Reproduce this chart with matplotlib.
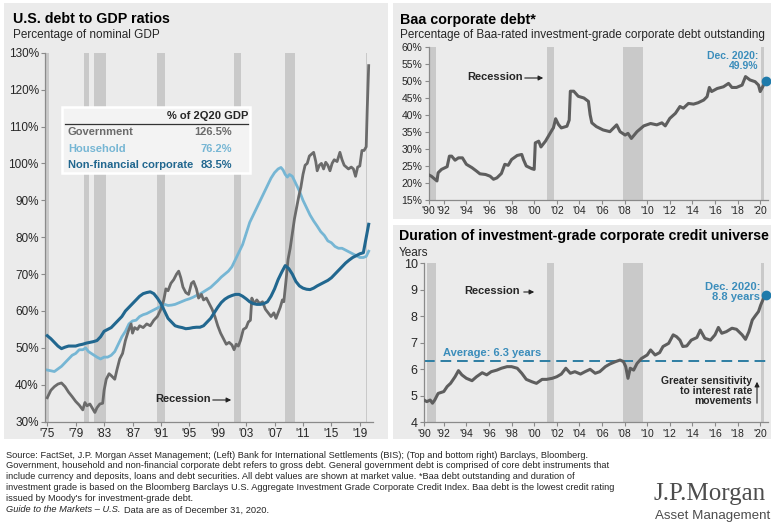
import matplotlib
matplotlib.use("Agg")
import matplotlib.pyplot as plt
from matplotlib.patches import Rectangle, FancyArrowPatch
from matplotlib.lines import Line2D

W, H = 771, 524

plt.rcParams['font.family'] = ['Liberation Sans', 'DejaVu Sans']

# ---- U.S. debt to GDP ratios (% of nominal GDP) ----
gov_years = [1975.0, 1975.5, 1976.0, 1976.5, 1977.0, 1977.5, 1978.0, 1978.5, 1979.0, 1979.5,
             1980.0, 1980.3, 1980.6, 1981.0, 1981.4, 1981.7, 1982.0, 1982.4, 1982.8, 1983.0,
             1983.3, 1983.7, 1984.0, 1984.5, 1984.8, 1985.2, 1985.6, 1986.0, 1986.4, 1986.8,
             1987.0, 1987.3, 1987.7, 1988.0, 1988.5, 1989.0, 1989.5, 1990.0, 1990.5, 1991.0,
             1991.4, 1991.7, 1992.0, 1992.4, 1992.8, 1993.2, 1993.5, 1993.8, 1994.1, 1994.5,
             1994.9, 1995.3, 1995.6, 1996.0, 1996.3, 1996.7, 1997.0, 1997.4, 1997.8, 1998.2,
             1998.6, 1999.0, 1999.4, 1999.8, 2000.2, 2000.6, 2001.0, 2001.3, 2001.6, 2001.9,
             2002.2, 2002.6, 2003.0, 2003.3, 2003.6, 2003.8, 2004.1, 2004.5, 2004.9, 2005.3,
             2005.7, 2006.1, 2006.5, 2006.9, 2007.2, 2007.5, 2007.8, 2008.1, 2008.3, 2008.6,
             2008.9, 2009.2, 2009.5, 2009.8, 2010.1, 2010.4, 2010.7, 2011.0, 2011.3, 2011.6,
             2011.9, 2012.2, 2012.5, 2012.8, 2013.0, 2013.3, 2013.6, 2013.9, 2014.2, 2014.5,
             2014.8, 2015.1, 2015.4, 2015.8, 2016.2, 2016.5, 2016.8, 2017.1, 2017.4, 2017.8,
             2018.1, 2018.4, 2018.7, 2019.0, 2019.3, 2019.6, 2019.9, 2020.05, 2020.25]
gov_vals = [36.5, 38.5, 39.5, 40.2, 40.5, 39.5, 38.0, 36.8, 35.5, 34.5,
            33.2, 35.2, 34.3, 34.8, 33.5, 32.5, 33.8, 34.8, 35.0, 38.5,
            41.5, 43.0, 42.5, 41.5, 44.0, 47.0, 48.5, 52.0, 54.5, 56.5,
            54.0, 55.5, 55.0, 56.0, 55.5, 56.5, 56.0, 57.5, 58.5, 60.5,
            63.0, 66.0, 65.5, 67.5, 68.5, 70.0, 70.8, 69.0, 66.5, 65.0,
            64.5, 67.5, 68.0, 66.0, 63.5, 64.5, 63.0, 63.5, 62.0, 60.5,
            58.5, 56.0, 54.0, 52.5, 51.0, 51.5, 50.8, 49.5, 51.0, 50.5,
            52.0, 55.0, 55.5, 57.0, 57.5, 63.5, 62.0, 63.0, 62.0, 62.5,
            60.5, 59.5, 58.5, 59.5, 58.0, 59.5, 61.0, 63.0, 62.5, 68.0,
            74.0, 77.0, 81.0, 85.0, 88.0, 91.0, 93.5, 97.0, 99.5, 100.0,
            102.0, 102.5, 103.0, 100.5, 98.0, 99.5, 100.0, 98.5, 100.3, 99.5,
            98.0, 100.0, 101.0, 100.5, 103.0, 101.0, 99.5, 99.0, 98.5, 99.0,
            98.5, 96.5, 99.0, 99.3, 103.5, 103.5, 104.5, 115.0, 126.5]

hh_years = [1975.0, 1975.5, 1976.0, 1976.5, 1977.0, 1977.5, 1978.0, 1978.5, 1979.0, 1979.5,
            1980.0, 1980.4, 1980.8, 1981.2, 1981.6, 1982.0, 1982.5, 1983.0, 1983.5, 1984.0,
            1984.5, 1985.0, 1985.5, 1986.0, 1986.5, 1987.0, 1987.5, 1988.0, 1988.5, 1989.0,
            1989.5, 1990.0, 1990.5, 1991.0, 1991.5, 1992.0, 1992.5, 1993.0, 1993.5, 1994.0,
            1994.5, 1995.0, 1995.5, 1996.0, 1996.5, 1997.0, 1997.5, 1998.0, 1998.5, 1999.0,
            1999.5, 2000.0, 2000.5, 2001.0, 2001.5, 2002.0, 2002.5, 2003.0, 2003.5, 2004.0,
            2004.5, 2005.0, 2005.5, 2006.0, 2006.5, 2007.0, 2007.5, 2007.9, 2008.2, 2008.5,
            2008.8, 2009.1, 2009.5, 2010.0, 2010.5, 2011.0, 2011.5, 2012.0, 2012.5, 2013.0,
            2013.5, 2014.0, 2014.5, 2015.0, 2015.5, 2016.0, 2016.5, 2017.0, 2017.5, 2018.0,
            2018.5, 2019.0, 2019.5, 2019.9, 2020.25]
hh_vals = [44.0, 43.8, 43.6, 44.3, 45.0, 46.0, 47.0, 48.0, 48.5, 49.5,
           49.5, 50.0, 49.0, 48.5, 48.0, 47.5, 47.0, 47.5, 47.5, 48.0,
           49.0, 51.0, 53.0, 54.5, 56.5, 57.3, 57.5, 58.5, 59.0, 59.3,
           59.8, 60.3, 60.8, 61.3, 61.8, 61.5, 61.6, 61.8, 62.2, 62.6,
           63.0, 63.3, 63.7, 64.2, 64.6, 65.2, 65.8, 66.4, 67.3, 68.2,
           69.2, 70.0, 70.8, 72.0, 74.0, 76.0, 78.0, 81.0, 84.0, 86.0,
           88.0, 90.0, 92.0, 94.0, 96.0, 97.5, 98.5, 98.9, 98.2, 97.0,
           96.3, 97.0, 96.5, 94.5, 92.5, 90.0, 88.0, 86.0, 84.4, 83.0,
           81.5, 80.5, 79.0, 78.5, 77.5, 77.0, 77.0, 76.5, 76.0, 75.5,
           75.0, 74.5, 74.5, 74.8, 76.2]

corp_years = [1975.0 + 0.5 * i for i in range(90)] + [2020.25]
corp_vals = [53.3, 52.5, 51.5, 50.5, 49.8, 50.2, 50.5, 50.5, 50.5, 50.8,
             51.0, 51.3, 51.5, 51.7, 52.0, 53.0, 54.5, 55.0, 55.5, 56.5,
             57.5, 58.5, 60.0, 61.0, 62.0, 63.0, 64.0, 64.7, 65.0, 65.2,
             64.7, 63.5, 62.0, 60.0, 58.0, 57.0, 56.0, 55.7, 55.5, 55.2,
             55.3, 55.5, 55.6, 55.6, 56.0, 57.0, 58.0, 59.5, 61.0, 62.3,
             63.2, 63.8, 64.2, 64.5, 64.5, 64.0, 63.3, 62.5, 62.0, 61.8,
             61.8, 62.0, 62.5, 64.0, 66.0, 68.5, 70.5, 72.3, 71.5, 70.0,
             68.0, 66.8, 66.2, 65.9, 65.8, 66.2, 66.8, 67.3, 67.8, 68.3,
             69.0, 70.0, 71.0, 72.0, 73.0, 73.8, 74.5, 75.0, 75.5, 75.8,
             83.5]

debt_labels = ["Government", "Household", "Non-financial corporate"]
debt_latest = ["126.5%", "76.2%", "83.5%"]
debt_colors = ["#6b6b6b", "#76b6d4", "#21678f"]

left_recessions = [(1973.9, 1975.2), (1980.2, 1980.9), (1981.6, 1983.2), (1990.45, 1991.6),
                   (2001.35, 2002.3), (2008.4, 2009.9), (2019.85, 2020.05)]
left_ticks = [1975 + 4 * i for i in range(12)]
left_ticklabels = ["'75", "'79", "'83", "'87", "'91", "'95", "'99", "'03", "'07", "'11", "'15", "'19"]

# ---- Baa share of investment-grade corporate debt (%) ----
baa_years = [1990.6, 1990.9, 1991.4, 1991.5, 1991.8, 1992.3, 1992.5, 1992.7, 1993.0, 1993.3,
             1993.65, 1994.0, 1994.5, 1994.9, 1995.2, 1995.7, 1996.1, 1996.4, 1996.7, 1997.1,
             1997.4, 1997.7, 1998.0, 1998.5, 1998.9, 1999.05, 1999.3, 1999.8, 2000.0, 2000.1,
             2000.4, 2000.6, 2001.0, 2001.3, 2001.6, 2001.7, 2001.9, 2002.15, 2002.4, 2002.9,
             2003.1, 2003.2, 2003.5, 2003.9, 2004.4, 2004.8, 2004.95, 2005.1, 2005.5, 2006.1,
             2006.7, 2007.3, 2007.6, 2008.05, 2008.3, 2008.6, 2009.1, 2009.7, 2010.3, 2010.85,
             2011.3, 2011.6, 2012.0, 2012.5, 2012.9, 2013.2, 2013.65, 2014.1, 2014.5, 2015.0,
             2015.3, 2015.5, 2015.7, 2016.2, 2016.75, 2017.2, 2017.5, 2017.9, 2018.4, 2018.7,
             2019.1, 2019.55, 2019.85, 2020.0, 2020.3, 2020.55]
baa_vals = [22.5, 22.0, 20.6, 23.0, 24.0, 24.8, 27.9, 27.9, 26.7, 27.4,
            27.4, 25.5, 24.5, 23.5, 22.7, 22.5, 22.0, 21.1, 21.5, 22.8,
            25.5, 25.2, 26.9, 28.1, 28.4, 26.9, 25.0, 24.2, 24.0, 31.8,
            32.3, 30.6, 32.3, 34.0, 35.7, 36.2, 38.9, 37.2, 36.2, 36.7,
            38.5, 47.0, 47.0, 45.5, 45.0, 44.0, 40.1, 37.7, 36.6, 35.6,
            35.1, 37.1, 35.1, 34.1, 34.6, 33.1, 35.1, 36.8, 37.5, 37.1,
            37.7, 36.8, 39.0, 40.5, 42.5, 42.0, 43.4, 43.2, 43.6, 44.4,
            45.4, 48.1, 46.9, 47.8, 48.3, 49.3, 48.1, 48.1, 48.8, 51.3,
            50.3, 49.8, 48.8, 46.9, 48.8, 49.9]

# ---- Duration of investment-grade corporate credit universe (years) ----
dur_years = [1990.25, 1990.5, 1990.8, 1991.0, 1991.2, 1991.5, 1992.0, 1992.3, 1992.6, 1993.0,
             1993.3, 1993.6, 1994.0, 1994.5, 1994.9, 1995.4, 1995.8, 1996.2, 1996.7, 1997.1,
             1997.6, 1998.0, 1998.5, 1998.9, 1999.3, 1999.8, 2000.2, 2000.7, 2001.1, 2001.6,
             2002.0, 2002.4, 2002.8, 2003.2, 2003.6, 2004.1, 2004.5, 2004.95, 2005.4, 2005.8,
             2006.3, 2006.7, 2007.2, 2007.6, 2007.9, 2008.1, 2008.3, 2008.5, 2008.8, 2009.1,
             2009.5, 2010.0, 2010.3, 2010.7, 2011.1, 2011.4, 2011.9, 2012.3, 2012.6, 2012.9,
             2013.15, 2013.5, 2013.9, 2014.4, 2014.7, 2015.1, 2015.6, 2016.0, 2016.3, 2016.6,
             2017.0, 2017.5, 2017.9, 2018.4, 2018.7, 2019.0, 2019.3, 2019.55, 2019.85, 2020.05,
             2020.3, 2020.55]
dur_vals = [4.84, 4.78, 4.84, 4.72, 4.84, 5.09, 5.16, 5.35, 5.47, 5.72,
            5.95, 5.79, 5.66, 5.57, 5.72, 5.87, 5.79, 5.91, 5.97, 6.04,
            6.10, 6.10, 6.04, 5.85, 5.62, 5.53, 5.47, 5.62, 5.62, 5.66,
            5.72, 5.82, 6.04, 5.85, 5.91, 5.82, 5.91, 6.00, 5.85, 5.91,
            6.10, 6.20, 6.29, 6.35, 6.29, 6.10, 5.66, 6.04, 5.97, 6.22,
            6.41, 6.54, 6.73, 6.54, 6.63, 6.86, 6.98, 7.30, 7.23, 7.10,
            6.86, 6.88, 7.10, 7.20, 7.48, 7.17, 7.10, 7.30, 7.58, 7.36,
            7.42, 7.55, 7.51, 7.30, 7.13, 7.42, 7.86, 8.01, 8.18, 8.43,
            8.68, 8.80]
dur_average = 6.3

right_recessions = [(1990.55, 1991.3), (2001.15, 2001.75), (2007.85, 2009.6), (2020.1, 2020.35)]
right_ticks = [1992 + 2 * i for i in range(15)]
right_ticklabels = ["'%02d" % (y % 100) for y in range(1990, 2021, 2)]

GREY_BG = "#ebebeb"
REC = "#c9c9c9"
LINE_GREY = "#5e5e5e"
TEAL = "#3b8dbb"
DOT = "#1f7bab"
TXT = "#262626"


def fpos(x, y):
    """pixel position (from top left) -> figure fraction"""
    return x / W, 1 - y / H


def add_panel(fig, x0, y0, x1, y1):
    fig.add_artist(Rectangle((x0 / W, 1 - y1 / H), (x1 - x0) / W, (y1 - y0) / H,
                             transform=fig.transFigure, facecolor=GREY_BG,
                             edgecolor='none', zorder=-10))


def make_axes(fig, left, top, right, bottom):
    ax = fig.add_axes([left / W, 1 - bottom / H, (right - left) / W, (bottom - top) / H])
    ax.set_facecolor('none')
    for s in ['top', 'right']:
        ax.spines[s].set_visible(False)
    for s in ['left', 'bottom']:
        ax.spines[s].set_color('#8a8a8a')
        ax.spines[s].set_linewidth(0.9)
    ax.tick_params(length=3, width=0.8, color='#8a8a8a', labelsize=8, labelcolor=TXT, pad=1.5)
    return ax


def fig_text(fig, x, y, s, **kw):
    fx, fy = fpos(x, y)
    kw.setdefault('color', TXT)
    kw.setdefault('va', 'center')
    return fig.text(fx, fy, s, **kw)


def fig_arrow(fig, x0, y0, x1, y1):
    fig.add_artist(FancyArrowPatch(fpos(x0, y0), fpos(x1, y1), transform=fig.transFigure,
                                   arrowstyle='-|>', mutation_scale=7, color='#222222', lw=0.8))


fig = plt.figure(figsize=(W / 100, H / 100), dpi=100)
fig.patch.set_facecolor('white')

add_panel(fig, 4, 3, 388, 439)
add_panel(fig, 393, 3, 771, 219)
add_panel(fig, 393, 225, 771, 439)

# ---------- left: debt to GDP ----------
ax = make_axes(fig, 45, 52.7, 373.3, 421.7)
for a, b in left_recessions:
    ax.axvspan(a, b, color=REC, lw=0, zorder=0)
ax.plot(hh_years, hh_vals, color=debt_colors[1], lw=2.0, zorder=2)
ax.plot(gov_years, gov_vals, color=debt_colors[0], lw=2.0, zorder=3)
ax.plot(corp_years, corp_vals, color=debt_colors[2], lw=2.2, zorder=4)
ax.set_xlim(1974.68, 2020.9)
ax.set_ylim(30, 130)
ax.set_yticks(range(30, 131, 10))
ax.set_yticklabels(["%d%%" % v for v in range(30, 131, 10)], fontsize=8.5)
ax.set_xticks(left_ticks)
ax.set_xticklabels(left_ticklabels, fontsize=8.5)

fig_text(fig, 13, 19, "U.S. debt to GDP ratios", fontsize=10.3, fontweight='bold', color='black')
fig_text(fig, 13, 35, "Percentage of nominal GDP", fontsize=8.5)

# latest-value table
fig.add_artist(Rectangle(fpos(62, 173), 188 / W, 66 / H, transform=fig.transFigure,
                         facecolor='#f3f3f3', edgecolor='white', lw=1.8, zorder=5))
fig_text(fig, 248, 116, "% of 2Q20 GDP", fontsize=8, fontweight='bold', ha='right', zorder=6)
fig.add_artist(Line2D([65 / W, 248 / W], [1 - 124 / H, 1 - 124 / H], color='#333333', lw=0.9, zorder=6))
for i, (lab, val, col) in enumerate(zip(debt_labels, debt_latest, debt_colors)):
    yy = 132 + i * 16.5
    fig_text(fig, 68, yy, lab, fontsize=8, fontweight='bold', color=col, zorder=6)
    fig_text(fig, 232, yy, val, fontsize=8, fontweight='bold', color=col, ha='right', zorder=6)

fig_text(fig, 183, 399, "Recession", fontsize=8, fontweight='bold', ha='center')
fig_arrow(fig, 210, 400, 234, 400)

# ---------- top right: Baa share ----------
ax2 = make_axes(fig, 428.5, 47, 768, 200)
for a, b in right_recessions:
    ax2.axvspan(a, b, color=REC, lw=0, zorder=0)
ax2.plot(baa_years, baa_vals, color=LINE_GREY, lw=2.2, zorder=3)
ax2.plot(baa_years[-1], baa_vals[-1], 'o', color=DOT, ms=6, clip_on=False, zorder=4)
ax2.set_xlim(1990.65, 2020.69)
ax2.set_ylim(15, 60)
ax2.set_yticks(range(15, 61, 5))
ax2.set_yticklabels(["%d%%" % v for v in range(15, 61, 5)], fontsize=7.5)
ax2.set_xticks([1990.65] + right_ticks)
ax2.set_xticklabels(right_ticklabels, fontsize=7.5)

fig_text(fig, 400, 20, "Baa corporate debt*", fontsize=10.3, fontweight='bold', color='black')
fig_text(fig, 400, 35, "Percentage of Baa-rated investment-grade corporate debt outstanding", fontsize=8.5)
fig_text(fig, 495, 77, "Recession", fontsize=8, fontweight='bold', ha='center')
fig_arrow(fig, 522, 78, 546, 78)
fig_text(fig, 758, 61, "Dec. 2020:\n%.1f%%" % baa_vals[-1], fontsize=7.5, fontweight='bold',
         color=TEAL, ha='right', linespacing=1.0)

# ---------- bottom right: duration ----------
ax3 = make_axes(fig, 424, 263.3, 768, 422.3)
for a, b in right_recessions:
    ax3.axvspan(a, b, color=REC, lw=0, zorder=0)
ax3.axhline(dur_average, color='#2d7ea3', lw=1.4, ls=(0, (5.5, 3)), zorder=2, clip_on=False, xmax=1.02)
ax3.plot(dur_years, dur_vals, color=LINE_GREY, lw=2.2, zorder=3)
ax3.plot(dur_years[-1], dur_vals[-1], 'o', color=DOT, ms=6, clip_on=False, zorder=4)
ax3.set_xlim(1990.25, 2020.69)
ax3.set_ylim(4, 10)
ax3.set_yticks(range(4, 11))
ax3.set_yticklabels([str(v) for v in range(4, 11)], fontsize=9)
ax3.set_xticks([1990.25] + right_ticks)
ax3.set_xticklabels(right_ticklabels, fontsize=7.5)

fig_text(fig, 399, 236, "Duration of investment-grade corporate credit universe", fontsize=10.2,
         fontweight='bold', color='black')
fig_text(fig, 399, 253, "Years", fontsize=8.5)
fig_text(fig, 492, 291, "Recession", fontsize=8, fontweight='bold', ha='center')
fig_arrow(fig, 521, 292, 537, 292)
fig_text(fig, 443, 353, "Average: %.1f years" % dur_average, fontsize=8, fontweight='bold', color=TEAL)
fig_text(fig, 760, 292, "Dec. 2020:\n%.1f years" % dur_vals[-1], fontsize=8, fontweight='bold',
         color=TEAL, ha='right', linespacing=1.0)
fig_text(fig, 752, 391, "Greater sensitivity\nto interest rate\nmovements", fontsize=7.5,
         fontweight='bold', ha='right', linespacing=1.05)
fig_arrow(fig, 757, 406, 757, 379)

# ---------- footnote and logo ----------
notes = [
    "Source: FactSet, J.P. Morgan Asset Management; (Left) Bank for International Settlements (BIS); (Top and bottom right) Barclays, Bloomberg.",
    "Government, household and non-financial corporate debt refers to gross debt. General government debt is comprised of core debt instruments that",
    "include currency and deposits, loans and debt securities. All debt values are shown at market value. *Baa debt outstanding and duration of",
    "investment grade is based on the Bloomberg Barclays U.S. Aggregate Investment Grade Corporate Credit Index. Baa debt is the lowest credit rating",
    "issued by Moody's for investment-grade debt.",
]
for i, line in enumerate(notes):
    fig_text(fig, 6, 455 + i * 10.9, line, fontsize=6.7)
guide = fig_text(fig, 6, 510, "Guide to the Markets \u2013 U.S.", fontsize=6.7, style='italic')
renderer = fig.canvas.get_renderer()
gx = guide.get_window_extent(renderer).x1
fig_text(fig, gx + 3, 510, "Data are as of December 31, 2020.", fontsize=6.7)

fig_text(fig, 654, 494, "J.P.Morgan", fontsize=18, family='Liberation Serif', color='#4d4d4d')
fig_text(fig, 655, 516, "Asset Management", fontsize=9.6, color='#4d4d4d')

fig.savefig("out.png", dpi=100, facecolor='white')
